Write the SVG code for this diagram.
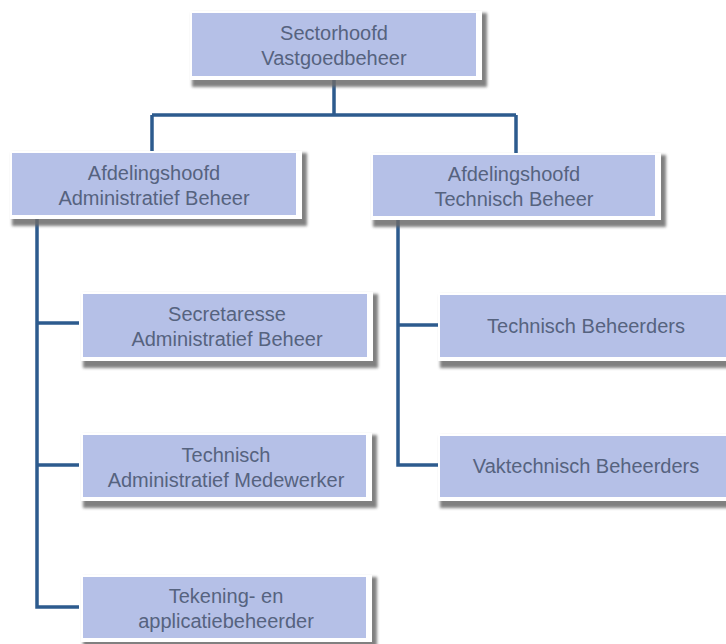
<svg xmlns="http://www.w3.org/2000/svg" width="726" height="644" viewBox="0 0 726 644">
<defs>
<filter id="blur" x="-10%" y="-20%" width="120%" height="140%"><feGaussianBlur stdDeviation="1.6"/></filter>
</defs>
<style>
.sh{fill:#6a6a6a;filter:url(#blur);opacity:0.85}
.wb{fill:#ffffff}
.bx{fill:#b5c0e7}
.t{font-family:"Liberation Sans",Arial,sans-serif;font-size:20px;fill:#56637f;text-anchor:middle}
.c{fill:none;stroke:#2d5b8e;stroke-width:3.5;stroke-linejoin:miter}
</style>
<rect width="726" height="644" fill="#ffffff"/>
<g id="connectors">
<path class="c" d="M334,76 V115 M152,115 H516 M152,115 V153 M516,115 V155"/>
<path class="c" d="M37,215 V607 H79 M37,323 H79 M37,465 H79"/>
<path class="c" d="M398,216 V465 H440 M398,325 H440"/>
</g>
<g id="n-sectorhoofd">
<rect class="sh" x="192" y="13" width="295" height="74"/>
<rect class="wb" x="190" y="11" width="292" height="69"/>
<rect class="bx" x="192" y="13" width="284" height="63"/>
<text class="t" x="334" y="40">Sectorhoofd</text>
<text class="t" x="334" y="65">Vastgoedbeheer</text>
</g>
<g id="n-afd-admin">
<rect class="sh" x="12" y="153" width="295" height="73"/>
<rect class="wb" x="10" y="151" width="292" height="68"/>
<rect class="bx" x="12" y="153" width="284" height="62"/>
<text class="t" x="154" y="180">Afdelingshoofd</text>
<text class="t" x="154" y="205">Administratief Beheer</text>
</g>
<g id="n-afd-tech">
<rect class="sh" x="373" y="155" width="293" height="72"/>
<rect class="wb" x="371" y="153" width="290" height="67"/>
<rect class="bx" x="373" y="155" width="282" height="61"/>
<text class="t" x="514" y="181">Afdelingshoofd</text>
<text class="t" x="514" y="206">Technisch Beheer</text>
</g>
<g id="n-secretaresse">
<rect class="sh" x="83" y="294" width="295" height="74"/>
<rect class="wb" x="81" y="292" width="292" height="69"/>
<rect class="bx" x="83" y="294" width="284" height="63"/>
<text class="t" x="227" y="321">Secretaresse</text>
<text class="t" x="227" y="346">Administratief Beheer</text>
</g>
<g id="n-tam">
<rect class="sh" x="83" y="435" width="294" height="73"/>
<rect class="wb" x="81" y="433" width="291" height="68"/>
<rect class="bx" x="83" y="435" width="283" height="62"/>
<text class="t" x="226" y="462">Technisch</text>
<text class="t" x="226" y="487">Administratief Medewerker</text>
</g>
<g id="n-tekening">
<rect class="sh" x="83" y="577" width="294" height="72"/>
<rect class="wb" x="81" y="575" width="291" height="67"/>
<rect class="bx" x="83" y="577" width="283" height="61"/>
<text class="t" x="226" y="603">Tekening- en</text>
<text class="t" x="226" y="628">applicatiebeheerder</text>
</g>
<g id="n-tech-beheerders">
<rect class="sh" x="440" y="295" width="300" height="73"/>
<rect class="wb" x="438" y="293" width="300" height="68"/>
<rect class="bx" x="440" y="295" width="296" height="62"/>
<text class="t" x="586" y="333">Technisch Beheerders</text>
</g>
<g id="n-vaktech">
<rect class="sh" x="440" y="436" width="300" height="72"/>
<rect class="wb" x="438" y="434" width="300" height="67"/>
<rect class="bx" x="440" y="436" width="296" height="61"/>
<text class="t" x="586" y="473">Vaktechnisch Beheerders</text>
</g>
</svg>
